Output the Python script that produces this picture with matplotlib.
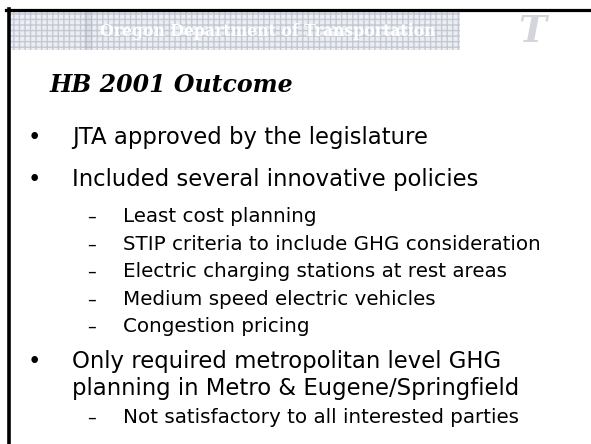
import matplotlib
matplotlib.use("Agg")
import matplotlib.pyplot as plt
from matplotlib.patches import Rectangle
from matplotlib.lines import Line2D

W, H = 591, 444

header_text = "Oregon Department of Transportation"
title = "HB 2001 Outcome"
# (text, level, bullet shown)
bullets = [
    ("JTA approved by the legislature", 0, True),
    ("Included several innovative policies", 0, True),
    ("Least cost planning", 1, True),
    ("STIP criteria to include GHG consideration", 1, True),
    ("Electric charging stations at rest areas", 1, True),
    ("Medium speed electric vehicles", 1, True),
    ("Congestion pricing", 1, True),
    ("Only required metropolitan level GHG", 0, True),
    ("planning in Metro & Eugene/Springfield", 0, False),
    ("Not satisfactory to all interested parties", 1, True),
]
baselines = [144, 186, 222, 249.5, 277, 304.5, 332, 368, 395, 423]

fig = plt.figure(figsize=(W / 100, H / 100), dpi=100)
fig.patch.set_facecolor("white")

def fx(x):
    return x / W

def fy(y):
    return 1 - y / H

# header band
band = Rectangle((fx(10), fy(50)), fx(460) - fx(10), fy(11) - fy(50),
                 transform=fig.transFigure, facecolor="#eceef2",
                 edgecolor="#c3c8d4", hatch="+++", linewidth=0)
fig.patches.append(band)
sep = Rectangle((fx(84), fy(50)), fx(92) - fx(84), fy(11) - fy(50),
                transform=fig.transFigure, facecolor="#dcdfe6",
                edgecolor="#b8bdca", hatch="+++", linewidth=0)
fig.patches.append(sep)
fig.text(fx(100), fy(31), header_text, color="white", fontsize=11.3,
         fontweight="bold", family="DejaVu Serif", va="center", ha="left")
fig.text(fx(532), fy(31), "T", color="#d3d5da", fontsize=27,
         fontweight="bold", fontstyle="italic", family="DejaVu Serif",
         va="center", ha="center")

# borders
fig.add_artist(Line2D([fx(6), fx(591)], [fy(10), fy(10)], color="black",
                      linewidth=2.3, transform=fig.transFigure))
fig.add_artist(Line2D([fx(8.5), fx(8.5)], [fy(9), fy(444)], color="black",
                      linewidth=2.6, transform=fig.transFigure))

# title
fig.text(fx(50), fy(92), title, fontsize=17, fontweight="bold",
         fontstyle="italic", family="DejaVu Serif", va="baseline", ha="left")

for (txt, lvl, mark), yb in zip(bullets, baselines):
    if lvl == 0:
        if mark:
            fig.text(fx(28), fy(yb), "•", fontsize=16.5, family="DejaVu Sans",
                     va="baseline", ha="left")
        fig.text(fx(72), fy(yb), txt, fontsize=16.4, family="DejaVu Sans",
                 va="baseline", ha="left")
    else:
        if mark:
            fig.text(fx(87), fy(yb), "–", fontsize=12.5, family="DejaVu Sans",
                     va="baseline", ha="left")
        fig.text(fx(123), fy(yb), txt, fontsize=14.3, family="DejaVu Sans",
                 va="baseline", ha="left")

fig.savefig("out.png", dpi=100)
